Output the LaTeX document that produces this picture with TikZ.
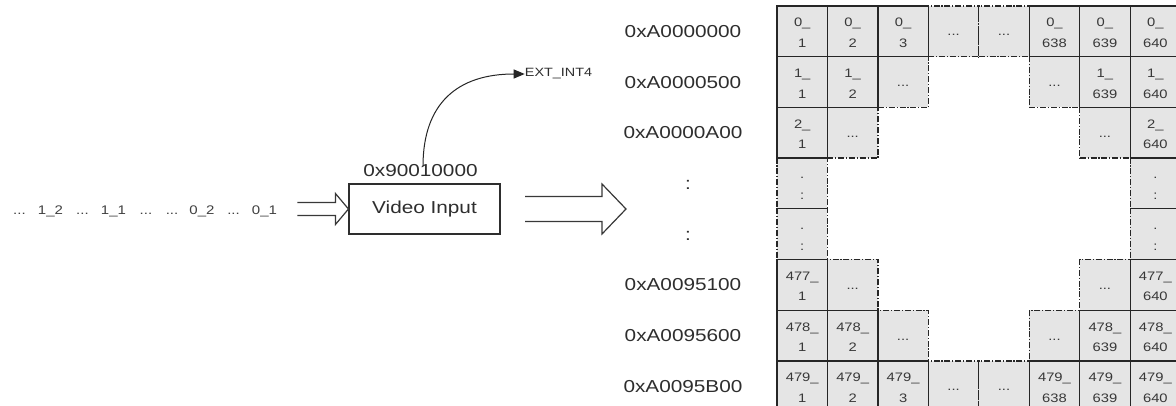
\documentclass[tikz,border=0pt]{standalone}
\usepackage{fontspec}
\setmainfont{Liberation Sans}
\newfontfamily\widesans[FakeStretch=1.2]{Liberation Sans}
\usetikzlibrary{arrows.meta,calc}
\newcommand\pxdots{...}

\tikzset{
  cellbase/.style={rectangle, minimum width=50.45pt, minimum height=50.7pt,
    inner sep=0pt, fill=black!10},
  solidcell/.style={cellbase, draw=black!85, line width=1.2pt},
  gapcell/.style={cellbase, draw=black!85, line width=1.2pt,
    dash pattern=on 6pt off 1.8pt on 1.2pt off 1.8pt},
  celltext/.style={font=\widesans\fontsize{12.3}{14}\selectfont, text=black!78,
    inner sep=0pt, anchor=base},
  addrlabel/.style={font=\widesans\fontsize{17.3}{20}\selectfont, text=black!82,
    inner sep=0pt},
  seqtext/.style={font=\widesans\fontsize{12.5}{14}\selectfont, text=black!75,
    inner sep=0pt, anchor=base},
  hollow/.style={draw=black!78, line width=1.2pt, line join=miter},
  blockbox/.style={draw=black!82, line width=1.1pt, minimum width=151pt,
    minimum height=50pt, inner sep=0pt, addrlabel},
}

\begin{document}
\begin{tikzpicture}[x=1pt,y=-1pt]
\useasboundingbox (0,0) rectangle (1176,406);
\fill[white] (0,0) rectangle (1176,406);
\clip (0,0) rectangle (1176,406);

% frame buffer grid: column/row pitch and origin
\def\cw{50.45}
\def\ch{50.7}
\def\gx{777}
\def\gy{6}

% cells standing for omitted pixels (dash-dot borders), drawn first
\foreach \r/\c in {0/3,0/4,1/2,1/5,2/1,2/6,5/1,5/6,6/2,6/5,7/3,7/4}{
  \node[gapcell] (g\r-\c) at ({\gx+\cw*(\c+0.5)},{\gy+\ch*(\r+0.5)}) {};
  \node[celltext] (gt\r-\c) at ($(g\r-\c.center)+(0,4.5)$) {\pxdots};
}
\foreach \r/\c in {3/0,4/0,3/7,4/7}{
  \node[gapcell] (g\r-\c) at ({\gx+\cw*(\c+0.5)},{\gy+\ch*(\r+0.5)}) {};
  \node[celltext] (gta\r-\c) at ($(g\r-\c.center)+(0,-4.5)$) {.};
  \node[celltext] (gtb\r-\c) at ($(g\r-\c.center)+(0,16)$) {:};
}

% stored pixels (row_column)
\foreach \r/\c/\a/\b in {
  0/0/0/1, 0/1/0/2, 0/2/0/3, 0/5/0/638, 0/6/0/639, 0/7/0/640,
  1/0/1/1, 1/1/1/2, 1/6/1/639, 1/7/1/640,
  2/0/2/1, 2/7/2/640,
  5/0/477/1, 5/7/477/640,
  6/0/478/1, 6/1/478/2, 6/6/478/639, 6/7/478/640,
  7/0/479/1, 7/1/479/2, 7/2/479/3, 7/5/479/638, 7/6/479/639, 7/7/479/640}{
  \node[solidcell] (p\r-\c) at ({\gx+\cw*(\c+0.5)},{\gy+\ch*(\r+0.5)}) {};
  \node[celltext] (pa\r-\c) at ($(p\r-\c.center)+(0,-4.5)$) {\a\_};
  \node[celltext] (pb\r-\c) at ($(p\r-\c.center)+(0,16)$) {\b};
}

% row start addresses
\foreach \r/\t in {0/0xA0000000,1/0xA0000500,2/0xA0000A00,
                   5/0xA0095100,6/0xA0095600,7/0xA0095B00}{
  \node[addrlabel] (row\r) at (683,{\gy+\ch*(\r+0.5)}) {\t};
}
\foreach \r in {3,4}{
  \node[addrlabel, anchor=base] (row\r) at (688,{\gy+\ch*(\r+0.5)+6}) {:};
}

% incoming pixel stream
\foreach \x/\t [count=\i] in {19.5/\pxdots,50.5/1\_2,82.5/\pxdots,113.5/1\_1,
                              146/\pxdots,172/\pxdots,202/0\_2,233.5/\pxdots,
                              264.5/0\_1}{
  \node[seqtext] (s\i) at (\x,215) {\t};
}

% video input block
\node[blockbox] (vin) at (424.5,209) {Video Input};
\node[addrlabel] (vaddr) at (420.5,171) {0x90010000};
\node[font=\widesans\fontsize{12}{14}\selectfont, text=black!82, inner sep=0pt]
  (ext) at (558.5,74) {EXT\_INT4};

% interrupt line
\draw[line width=1pt, black!85, -{Triangle[length=11pt,width=9pt]}]
  ($(vaddr.north)+(2.5,1.5)$) .. controls +(0,-63) and +(-67,0) .. (ext.west);

% hollow arrow into the block
\draw[hollow]
  ($(vin.west)+(-51,-6.5)$) -- ($(vin.west)+(-13,-6.5)$) --
  ($(vin.west)+(-13,-15.5)$) -- (vin.west) -- ($(vin.west)+(-13,15.5)$) --
  ($(vin.west)+(-13,6.5)$) -- ($(vin.west)+(-51,6.5)$);

% hollow arrow towards memory
\coordinate (outtip) at (626,209);
\draw[hollow]
  ($(outtip)+(-101,-12.5)$) -- ($(outtip)+(-24,-12.5)$) --
  ($(outtip)+(-24,-25)$) -- (outtip) -- ($(outtip)+(-24,25)$) --
  ($(outtip)+(-24,12.5)$) -- ($(outtip)+(-101,12.5)$);
\end{tikzpicture}
\end{document}
